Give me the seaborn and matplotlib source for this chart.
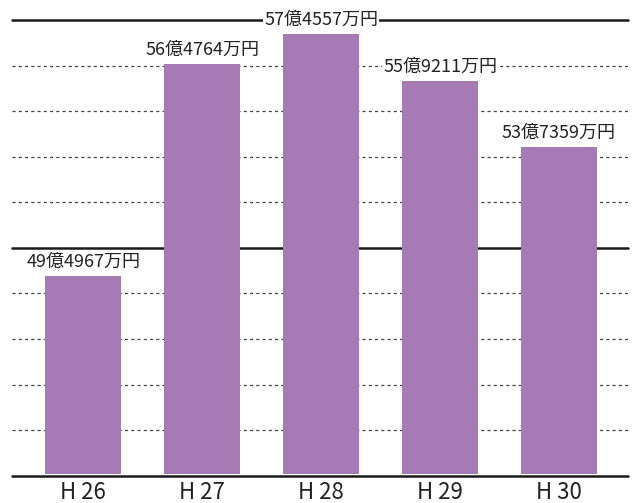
import matplotlib
matplotlib.use("Agg")
import matplotlib.pyplot as plt
import seaborn as sns
import pandas as pd
import numpy as np

# === データ ===
nendo = ["H26", "H27", "H28", "H29", "H30"]
kingaku = [49.4967, 56.4764, 57.4557, 55.9211, 53.7359]  # 億円
labels = ["49億4967万円", "56億4764万円", "57億4557万円", "55億9211万円", "53億7359万円"]
tick_labels = ["H 26", "H 27", "H 28", "H 29", "H 30"]

df = pd.DataFrame({"nendo": nendo, "kingaku": kingaku})

sns.set_style("white")
plt.rcParams["font.family"] = ["Noto Sans CJK JP", "DejaVu Sans"]

fig = plt.figure(figsize=(6.36, 5.03), dpi=100)
ax = fig.add_axes([12 / 636, 29 / 503, 616 / 636, 454 / 503])

y_min, step = 42.92, 1.5
y_max = y_min + 10 * step
grid_vals = y_min + step * np.arange(11)
for i, g in enumerate(grid_vals):
    if i in (0, 5, 10):
        ax.axhline(g, color="#1a1a1a", lw=1.8, zorder=4 if i == 0 else 1, clip_on=False)
    else:
        ax.axhline(g, color="#444444", lw=0.9, ls=(0, (2.5, 2.5)), zorder=1)

sns.barplot(data=df, x="nendo", y="kingaku", color="#a57ab5", saturation=1,
            width=0.64, linewidth=0, ax=ax, zorder=2)

for i, (v, t) in enumerate(zip(kingaku, labels)):
    ax.text(i, v + 0.16, t, ha="center", va="bottom", fontsize=13, color="#222222",
            bbox=dict(facecolor="white", edgecolor="none", pad=0.5), zorder=3)

ax.set_ylim(y_min + 0.06, y_max)
ax.set_xlim(-0.6, 4.58)
ax.set_xticks(range(len(nendo)))
ax.set_xticklabels(tick_labels, fontsize=16, color="#222222")
ax.tick_params(axis="x", length=0, pad=5)
ax.set_yticks([])
ax.set_xlabel("")
ax.set_ylabel("")
sns.despine(ax=ax, left=True, bottom=True)

fig.savefig("out.png", dpi=100)
